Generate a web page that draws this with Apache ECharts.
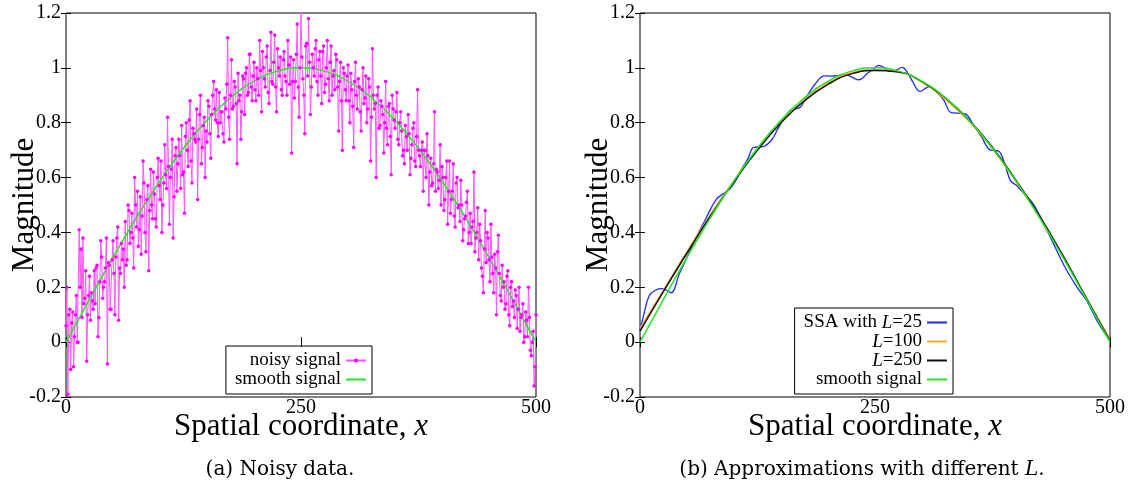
<!DOCTYPE html>
<html>
<head>
<meta charset="utf-8">
<script src="https://cdn.jsdelivr.net/npm/echarts@6/dist/echarts.min.js"></script>
<style>
html,body{margin:0;padding:0;background:#fff;}
#chart{width:1138px;height:489px;}
</style>
</head>
<body>
<div id="chart"></div>
<script>
// ---------- data ----------
const xTicks = [0, 250, 500];
const yMin = -0.2, yMax = 1.2, yStep = 0.2;
// noisy samples at even x = 0,2,...,500
const noisyEven = [
  0.06, -0.19, 0.12, 0.07, -0.09,
  0.10, 0.00, 0.41, 0.34, 0.38,
  0.16, -0.07, 0.17, 0.08, 0.15,
  0.26, 0.27, 0.02, 0.22, 0.31,
  0.20, 0.27, -0.08, 0.28, 0.12,
  0.37, 0.10, 0.38, 0.08, 0.25,
  0.30, 0.20, 0.28, 0.50, 0.36,
  0.47, 0.27, 0.50, 0.55, 0.41,
  0.32, 0.66, 0.40, 0.52, 0.26,
  0.63, 0.45, 0.54, 0.42, 0.67,
  0.52, 0.40, 0.58, 0.61, 0.82,
  0.43, 0.63, 0.38, 0.68, 0.55,
  0.74, 0.56, 0.61, 0.47, 0.80,
  0.64, 0.88, 0.58, 0.76, 0.73,
  0.52, 0.83, 0.65, 0.79, 0.60,
  0.73, 0.86, 0.67, 0.90, 0.85,
  0.92, 0.75, 0.80, 0.84, 0.73,
  0.85, 1.11, 0.74, 1.03, 0.86,
  0.93, 0.65, 0.88, 0.74, 0.97,
  0.83, 1.00, 0.91, 1.05, 0.88,
  1.02, 0.88, 0.96, 1.10, 0.84,
  1.00, 0.93, 1.08, 0.87, 1.13,
  0.94, 1.12, 0.84, 1.00, 1.04,
  0.90, 1.06, 0.95, 1.10, 0.94,
  0.69, 1.03, 0.95, 1.16, 0.82,
  1.21, 0.96, 0.76, 1.09, 1.18,
  0.83, 1.05, 0.97, 1.10, 0.90,
  1.06, 0.87, 1.08, 0.94, 1.10,
  0.88, 1.08, 0.97, 0.92, 1.03,
  0.77, 1.02, 0.70, 0.98, 0.88,
  1.01, 0.80, 0.92, 0.71, 1.02,
  0.85, 0.93, 0.77, 1.00, 0.89,
  0.80, 0.96, 0.66, 1.07, 0.85,
  0.60, 0.93, 0.79, 0.86, 0.69,
  0.95, 0.72, 0.87, 0.61, 0.85,
  0.78, 0.91, 0.72, 0.84, 0.68,
  0.65, 0.75, 0.83, 0.61, 0.72,
  0.80, 0.64, 0.92, 0.68, 0.70,
  0.55, 0.70, 0.76, 0.50, 0.67,
  0.58, 0.84, 0.63, 0.56, 0.72,
  0.64, 0.48, 0.60, 0.43, 0.66,
  0.52, 0.65, 0.42, 0.60, 0.50,
  0.59, 0.37, 0.45, 0.51, 0.36,
  0.47, 0.42, 0.62, 0.38, 0.49,
  0.43, 0.27, 0.18, 0.48, 0.40,
  0.30, 0.43, 0.25, 0.32, 0.10,
  0.39, 0.17, 0.28, 0.22, 0.14,
  0.26, 0.06, 0.22, 0.15, 0.19,
  0.05, 0.20, 0.09, 0.14, 0.02,
  0.08, 0.20, -0.03, 0.00, -0.16,
  0.10
];
// noisy samples at odd x = 1,3,...,499
const noisyOdd = [
  0.20, 0.10, -0.10, 0.11, 0.02,
  0.17, 0.00, 0.20, 0.09, 0.14,
  0.26, 0.10, 0.24, 0.18, 0.12,
  0.14, 0.28, 0.09, 0.37, 0.16,
  0.22, 0.38, 0.29, 0.12, 0.30,
  0.25, 0.31, 0.42, 0.27, 0.36,
  0.34, 0.44, 0.30, 0.48, 0.40,
  0.38, 0.60, 0.42, 0.35, 0.53,
  0.46, 0.58, 0.33, 0.57, 0.48,
  0.50, 0.62, 0.45, 0.60, 0.57,
  0.66, 0.50, 0.72, 0.56, 0.64,
  0.60, 0.74, 0.53, 0.71, 0.65,
  0.68, 0.79, 0.62, 0.75, 0.70,
  0.81, 0.66, 0.78, 0.74, 0.85,
  0.74, 0.90, 0.71, 0.82, 0.77,
  0.88, 0.76, 0.83, 0.95, 0.81,
  0.80, 0.91, 0.84, 0.76, 0.89,
  0.94, 0.82, 0.90, 0.85, 0.95,
  0.87, 0.98, 0.90, 0.84, 0.96,
  0.98, 0.90, 1.05, 0.93, 0.97,
  0.92, 1.00, 0.90, 0.99, 1.06,
  0.96, 1.04, 0.91, 0.99, 0.95,
  1.02, 0.93, 1.07, 0.97, 0.92,
  1.03, 0.97, 0.90, 1.01, 1.04,
  0.95, 0.89, 1.05, 0.93, 1.00,
  1.04, 0.90, 1.08, 0.97, 1.02,
  0.93, 1.00, 1.07, 0.95, 1.03,
  0.97, 1.06, 0.91, 1.00, 0.96,
  1.02, 0.90, 0.99, 1.05, 0.93,
  0.95, 0.88, 1.00, 0.92, 0.97,
  0.88, 0.98, 0.86, 0.95, 0.90,
  0.96, 0.84, 0.92, 0.87, 0.97,
  0.85, 0.93, 0.82, 0.90, 0.87,
  0.90, 0.78, 0.88, 0.83, 0.80,
  0.78, 0.86, 0.75, 0.90, 0.81,
  0.84, 0.74, 0.80, 0.77, 0.70,
  0.79, 0.70, 0.76, 0.67, 0.78,
  0.66, 0.75, 0.70, 0.64, 0.73,
  0.70, 0.60, 0.68, 0.62, 0.57,
  0.65, 0.55, 0.62, 0.59, 0.50,
  0.60, 0.52, 0.66, 0.55, 0.47,
  0.55, 0.46, 0.58, 0.49, 0.44,
  0.50, 0.41, 0.46, 0.55, 0.40,
  0.36, 0.44, 0.33, 0.40, 0.30,
  0.37, 0.24, 0.34, 0.29, 0.38,
  0.22, 0.31, 0.18, 0.27, 0.33,
  0.25, 0.15, 0.20, 0.12, 0.24,
  0.10, 0.20, 0.13, 0.09, 0.17,
  0.12, 0.04, 0.10, 0.00, 0.11,
  0.02, 0.09, -0.05, 0.04, -0.09
];
const smoothX = [0,25,50,75,100,125,150,175,200,225,250,275,300,325,350,375,400,425,450,475,500];
const smoothY = [0,0.156,0.309,0.454,0.588,0.707,0.809,0.891,0.951,0.988,1.0,0.988,0.951,0.891,0.809,0.707,0.588,0.454,0.309,0.156,0];
const l250Y = [0.04,0.185,0.325,0.46,0.585,0.70,0.80,0.88,0.94,0.978,0.99,0.985,0.95,0.89,0.81,0.71,0.59,0.46,0.315,0.16,0.005];
const l100Y = [0.05,0.19,0.33,0.465,0.59,0.705,0.805,0.885,0.945,0.982,0.993,0.985,0.948,0.885,0.805,0.705,0.585,0.455,0.31,0.16,0.01];
const l25X = [0,4,10,17,23,28,33,42,50,58,70,81,90,96,102,108,115,121,131,140,147,154,162,169,178,187,196,204,212,219,226,233,242,248,254,260,265,272,279,285,290,298,308,316,323,331,338,346,355,363,373,381,388,394,401,408,417,425,438,452,465,475,488,500];
const l25Y = [0.04,0.10,0.171,0.19,0.195,0.19,0.18,0.25,0.31,0.37,0.45,0.52,0.545,0.56,0.59,0.63,0.67,0.71,0.713,0.737,0.78,0.82,0.85,0.853,0.9,0.944,0.971,0.97,0.972,0.975,0.965,0.956,0.98,0.995,1.009,1.0,0.987,0.99,1.002,0.98,0.95,0.914,0.932,0.91,0.883,0.837,0.835,0.832,0.79,0.75,0.70,0.697,0.65,0.59,0.57,0.543,0.51,0.463,0.372,0.274,0.2,0.152,0.067,0.006];

// ---------- chart ----------
const FONT = 'Liberation Serif';
const pair = (xs, ys) => ys.map((y, i) => [xs[i], y]);
const noisyData = [];
noisyEven.forEach((y, i) => {
  noisyData.push([2 * i, y]);
  if (i < noisyOdd.length) noisyData.push([2 * i + 1, noisyOdd[i]]);
});

function xAx(grid, pos, labels, name) {
  return {
    type: 'value', gridIndex: grid, position: pos, min: xTicks[0], max: xTicks[xTicks.length-1],
    interval: xTicks[1] - xTicks[0],
    axisLine: {show: false}, splitLine: {show: false},
    axisTick: {show: true, inside: true, length: 5, lineStyle: {color: '#000'}},
    axisLabel: {show: labels, color: '#000', fontFamily: FONT, fontSize: 20, margin: 1},
    name: name || '', nameLocation: 'middle', nameGap: 30, nameMoveOverlap: false,
    nameTextStyle: {
      color: '#000', fontFamily: FONT, fontSize: 31, verticalAlign: 'middle',
      rich: {n: {fontFamily: FONT, fontSize: 31, color: '#000'}, i: {fontFamily: FONT, fontSize: 31, fontStyle: 'italic', color: '#000'}}
    }
  };
}
function yAx(grid, pos, labels, name) {
  return {
    type: 'value', gridIndex: grid, position: pos, min: yMin, max: yMax, interval: yStep,
    axisLine: {show: false}, splitLine: {show: false},
    axisTick: {show: true, inside: true, length: 5, lineStyle: {color: '#000'}},
    axisLabel: {show: labels, color: '#000', fontFamily: FONT, fontSize: 20, margin: 5,
      formatter: v => String(Math.round(v * 10) / 10)},
    name: name || '', nameLocation: 'middle', nameGap: 26, nameMoveOverlap: false,
    nameTextStyle: {color: '#000', fontFamily: FONT, fontSize: 31}
  };
}

const legendText = {color: '#000', fontFamily: FONT, fontSize: 19, lineHeight: 18,
  rich: {n: {fontFamily: FONT, fontSize: 19, lineHeight: 18, color: '#000'},
         i: {fontFamily: FONT, fontSize: 19, lineHeight: 18, fontStyle: 'italic', color: '#000'}}};
function legendFmt(name) {
  const m = name.trim().match(/^(.*?)L=(\d+)$/);
  if (!m) return '{n|' + name.trim() + '}';
  return (m[1] ? '{n|' + m[1] + '}' : '') + '{i|L}{n|=' + m[2] + '}';
}
const legendBase = {orient: 'vertical', align: 'right', bottom: 95, itemWidth: 20, itemHeight: 5,
  itemGap: 0, padding: [5, 5, 5, 9], borderColor: '#000', borderWidth: 1, borderRadius: 0,
  textStyle: legendText, formatter: legendFmt};
const noSym = {opacity: 0};

const chart = echarts.init(document.getElementById('chart'), null, {renderer: 'canvas'});
chart.setOption({
  animation: false,
  backgroundColor: '#fff',
  grid: [
    {left: 66, top: 13, width: 470, height: 384, show: true, borderColor: '#000', borderWidth: 1},
    {left: 640, top: 13, width: 470, height: 384, show: true, borderColor: '#000', borderWidth: 1}
  ],
  xAxis: [
    xAx(0, 'bottom', true, '{n|Spatial coordinate, }{i|x}'),
    xAx(0, 'top', false),
    xAx(1, 'bottom', true, '{n|Spatial coordinate, }{i|x}'),
    xAx(1, 'top', false)
  ],
  yAxis: [
    yAx(0, 'left', true, 'Magnitude'),
    yAx(0, 'right', false),
    yAx(1, 'left', true, 'Magnitude'),
    yAx(1, 'right', false)
  ],
  title: [
    {text: '(a) Noisy data.', left: 275, top: 455, textAlign: 'center',
      textStyle: {fontFamily: 'DejaVu Serif', fontSize: 20, fontWeight: 'normal', color: '#000'}},
    {text: '(b) Approximations with different {i|L}.', left: 857, top: 455, textAlign: 'center',
      textStyle: {fontFamily: 'DejaVu Serif', fontSize: 20, fontWeight: 'normal', color: '#000',
        rich: {i: {fontFamily: 'DejaVu Serif', fontSize: 20, fontStyle: 'italic', color: '#000'}}}}
  ],
  legend: [
    Object.assign({}, legendBase, {right: 766,
      data: ['noisy signal', {name: 'smooth signal', itemStyle: noSym}]}),
    Object.assign({}, legendBase, {right: 185,
      data: [{name: 'SSA with L=25', itemStyle: noSym}, {name: 'L=100', itemStyle: noSym},
             {name: 'L=250', itemStyle: noSym}, {name: 'smooth signal ', itemStyle: noSym}]})
  ],
  series: [
    {name: 'noisy signal', type: 'line', xAxisIndex: 0, yAxisIndex: 0, data: noisyData,
      symbol: 'circle', symbolSize: 3.5, showSymbol: true,
      lineStyle: {color: '#ff55ff', width: 1}, itemStyle: {color: '#ff00ff'}},
    {name: 'smooth signal', type: 'line', xAxisIndex: 0, yAxisIndex: 0, data: pair(smoothX, smoothY),
      smooth: true, symbol: 'none', lineStyle: {color: '#22e622', width: 1.5}, itemStyle: {color: '#22e622'}},
    {name: 'SSA with L=25', type: 'line', xAxisIndex: 2, yAxisIndex: 2, data: pair(l25X, l25Y),
      smooth: 0.4, symbol: 'none', lineStyle: {color: '#1f2cff', width: 1.3}, itemStyle: {color: '#1f2cff'}},
    {name: 'L=100', type: 'line', xAxisIndex: 2, yAxisIndex: 2, data: pair(smoothX, l100Y),
      smooth: true, symbol: 'none', lineStyle: {color: '#ffa726', width: 1.5}, itemStyle: {color: '#ffa726'}},
    {name: 'L=250', type: 'line', xAxisIndex: 2, yAxisIndex: 2, data: pair(smoothX, l250Y),
      smooth: true, symbol: 'none', lineStyle: {color: '#111', width: 1.5}, itemStyle: {color: '#111'}},
    {name: 'smooth signal ', type: 'line', xAxisIndex: 2, yAxisIndex: 2, data: pair(smoothX, smoothY),
      smooth: true, symbol: 'none', lineStyle: {color: '#22e622', width: 1.5}, itemStyle: {color: '#22e622'}}
  ]
});
</script>
</body>
</html>
